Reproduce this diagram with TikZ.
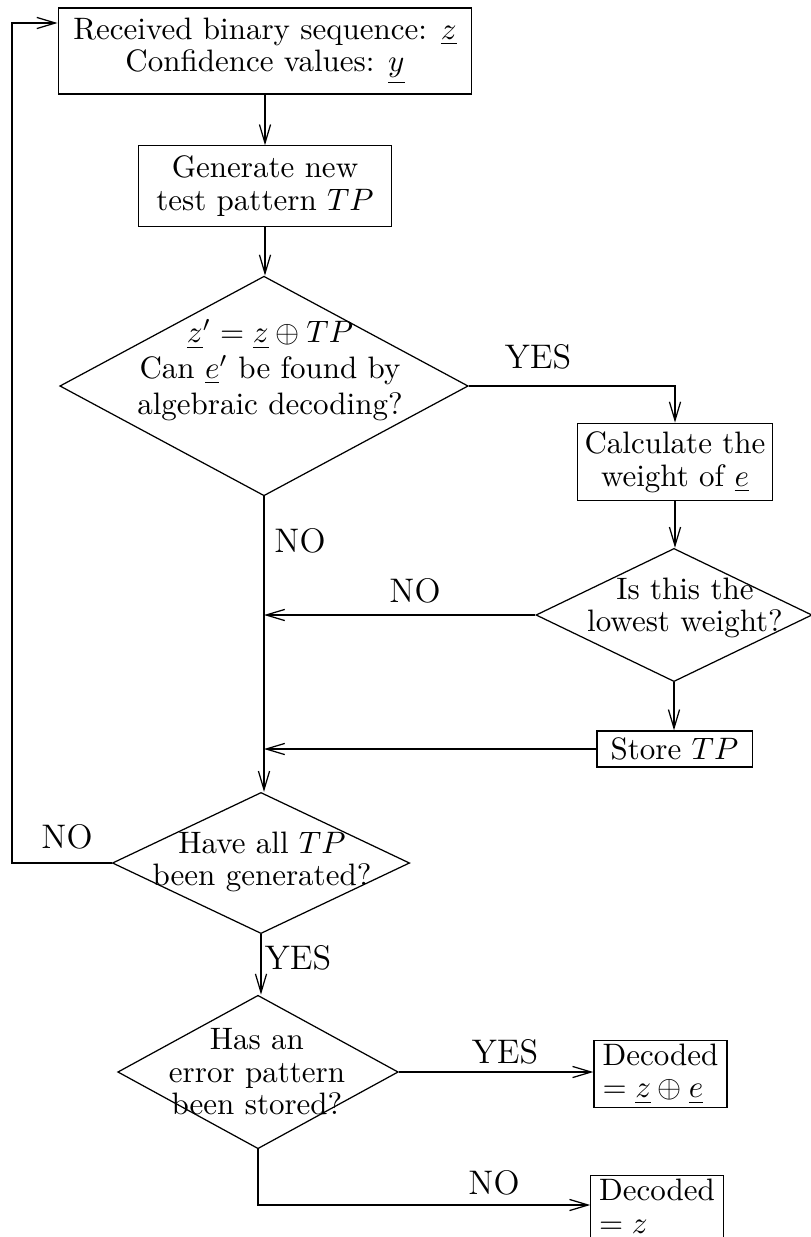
\documentclass[tikz,border=0pt]{standalone}
\usetikzlibrary{shapes.geometric}
\usetikzlibrary{arrows.meta}
\tikzstyle{block}=[draw,inner sep=1pt,align=center,font=\fontsize{10}{10.5}\selectfont]
\tikzstyle{decision}=[draw,diamond,inner sep=0pt]
\tikzstyle{question}=[align=center,inner sep=0pt,font=\fontsize{10}{10.5}\selectfont]
\tikzstyle{answer}=[inner sep=0pt,font=\fontsize{11}{13}\selectfont]
\tikzstyle{arr}=[-{Straight Barb[length=6pt,width=3.6pt]}]

\begin{document}
\begin{tikzpicture}[x=0.01134cm,y=-0.01134cm]  % chase-type decoding loop
\useasboundingbox (0,0) rectangle (810,1237);

\node[block,minimum width=4.69cm,minimum height=0.975cm] (recv) at (265,51)
      {Received binary sequence: $\underline{z}$\\ Confidence values: $\underline{y}$};
\node[block,minimum width=2.87cm,minimum height=0.91cm] (gen) at (265,186)
      {Generate new\\ test pattern $TP$};

\node[decision,minimum width=4.63cm,minimum height=2.49cm] (d1) at (264,386) {};
\node[question,font=\fontsize{10}{11.5}\selectfont] (d1t) at (270,370)
      {$\underline{z}'=\underline{z}\oplus TP$\\ Can $\underline{e}'$ be found by\\ algebraic decoding?};

\node[block,minimum width=2.21cm,minimum height=0.88cm] (calc) at (675,462)
      {Calculate the\\ weight of $\underline{e}$};

\node[decision,minimum width=3.13cm,minimum height=1.51cm] (d2) at (674,615) {};
\node[question] (d2t) at (685,608) {Is this the\\ lowest weight?};

\node[block,minimum width=1.76cm,minimum height=0.41cm] (store) at (674.5,749) {Store $TP$};

\node[decision,minimum width=3.37cm,minimum height=1.60cm] (d3) at (261,863) {};
\node[question] (d3t) at (262,862) {Have all $TP$\\ been generated?};

\node[decision,minimum width=3.18cm,minimum height=1.74cm] (d4) at (258,1072) {};
\node[question] (d4t) at (257,1072) {Has an\\ error pattern\\ been stored?};

\node[block,align=left,minimum width=1.51cm,minimum height=0.52cm] (dec1) at (660.5,1074)
      {Decoded\\ $=\underline{z}\oplus\underline{e}$};
\node[block,align=left,anchor=north,minimum width=1.50cm,minimum height=0.76cm] (dec2) at (657,1175)
      {Decoded\\ $=\underline{z}$};

\coordinate (loop) at (12,23);
\coordinate (noend) at (0,1205);

\draw[arr] (recv.south -| gen.north) -- (gen.north);
\draw[arr] (gen.south) -- (gen.south |- d1.north);
\draw[arr] (d1.east) -| (calc.north);
\draw[arr] (calc.south) -- (calc.south |- d2.north);
\draw[arr] (d2.south) -- (d2.south |- store.north);
\draw[arr] (d2.west) -- (d2.west -| d1.south);
\draw[arr] (store.west) -- (store.west -| d1.south);
\draw[arr] (d1.south) -- (d1.south |- d3.north);
\draw[arr] (d3.west) -| (loop) -- (loop -| recv.west);
\draw[arr] (d3.south) -- (d3.south |- d4.north);
\draw[arr] (d4.east) -- (d4.east -| dec1.west);
\draw[arr] (d4.south) |- (noend -| dec2.west);

\node[answer] (yes1) at (538,357) {YES};
\node[answer] (no1) at (300,541) {NO};
\node[answer] (no2) at (415,591) {NO};
\node[answer] (no3) at (67,837) {NO};
\node[answer] (yes2) at (298,958) {YES};
\node[answer] (yes3) at (505,1052) {YES};
\node[answer] (no4) at (494,1183) {NO};
\end{tikzpicture}
\end{document}
